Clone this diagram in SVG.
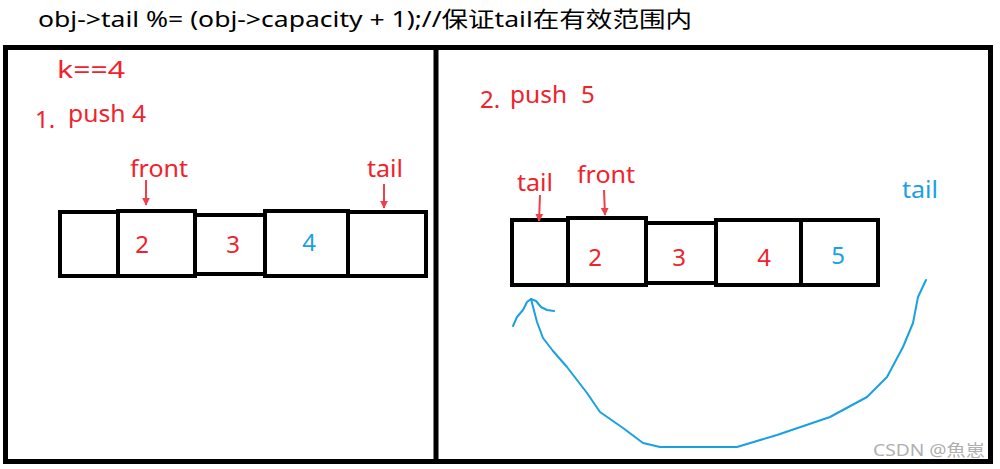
<svg xmlns="http://www.w3.org/2000/svg" width="1000" height="469" viewBox="0 0 1000 469">
<defs>
<style>
text{font-family:"Noto Sans","Noto Sans CJK SC",sans-serif;}
.red{fill:#f0222c;font-size:24px;}
.blue{fill:#1aa0e6;font-size:24px;}
.num{font-size:24px;text-anchor:middle;}
.cell{fill:none;stroke:#000;stroke-width:4;}
.frame{fill:none;stroke:#000;stroke-width:5;}
.arr{stroke:#f0404a;stroke-width:2;fill:none;marker-end:url(#ah);}
.curve{stroke:#1aa0e0;stroke-width:2;fill:none;stroke-linejoin:round;stroke-linecap:round;}
</style>
<marker id="ah" viewBox="0 0 10 10" refX="9" refY="5" markerWidth="4" markerHeight="5" orient="auto" markerUnits="strokeWidth">
<path d="M0,0 L10,5 L0,10 z" fill="#f0404a"/>
</marker>
</defs>
<rect width="1000" height="469" fill="#fff"/>
<g id="title">
<text x="38" y="27" style="font-size:22px;fill:#000" textLength="654" lengthAdjust="spacingAndGlyphs">obj-&gt;tail %= (obj-&gt;capacity + 1);//保证tail在有效范围内</text>
</g>
<g id="frames">
<rect class="frame" x="5.5" y="47.5" width="985" height="414"/>
<line x1="436" y1="47" x2="436" y2="462" stroke="#000" stroke-width="5"/>
</g>
<g id="panel1-labels">
<text class="red" x="57" y="78" textLength="68" lengthAdjust="spacingAndGlyphs">k==4</text>
<text class="red" x="35" y="128">1.</text>
<text class="red" x="68" y="122" textLength="78" lengthAdjust="spacingAndGlyphs">push 4</text>
<text class="red" x="130" y="177" textLength="58" lengthAdjust="spacingAndGlyphs">front</text>
<text class="red" x="367" y="177" textLength="36" lengthAdjust="spacingAndGlyphs">tail</text>
</g>
<g id="array1">
<g id="a1c0"><rect class="cell" x="60" y="212" width="58" height="64"/></g>
<g id="a1c1"><rect class="cell" x="118" y="211" width="77" height="65"/><text class="red num" x="142" y="253">2</text></g>
<g id="a1c2"><rect class="cell" x="195" y="215" width="70" height="59"/><text class="red num" x="233" y="253">3</text></g>
<g id="a1c3"><rect class="cell" x="265" y="211" width="83" height="65"/><text class="blue num" x="309" y="251">4</text></g>
<g id="a1c4"><rect class="cell" x="348" y="212" width="78" height="64"/></g>
</g>
<g id="panel2-labels">
<text class="red" x="480" y="108">2.</text>
<text class="red" x="510" y="103" textLength="57" lengthAdjust="spacingAndGlyphs">push</text>
<text class="red" x="581" y="103">5</text>
<text class="red" x="517" y="191" textLength="36" lengthAdjust="spacingAndGlyphs">tail</text>
<text class="red" x="577" y="183" textLength="58" lengthAdjust="spacingAndGlyphs">front</text>
<text class="blue" x="902" y="198" textLength="36" lengthAdjust="spacingAndGlyphs">tail</text>
</g>
<g id="array2">
<g id="a2c0"><rect class="cell" x="512" y="220" width="56" height="65"/></g>
<g id="a2c1"><rect class="cell" x="568" y="218" width="78" height="67"/><text class="red num" x="595" y="266">2</text></g>
<g id="a2c2"><rect class="cell" x="646" y="223" width="70" height="60"/><text class="red num" x="679" y="266">3</text></g>
<g id="a2c3"><rect class="cell" x="716" y="220" width="85" height="65"/><text class="red num" x="764" y="266">4</text></g>
<g id="a2c4"><rect class="cell" x="801" y="220" width="77" height="65"/><text class="blue num" x="838" y="264">5</text></g>
</g>
<g id="connectors">
<line class="arr" x1="146" y1="180" x2="146" y2="205"/>
<line class="arr" x1="384" y1="184" x2="384" y2="208"/>
<line class="arr" x1="540" y1="195" x2="539" y2="221"/>
<line class="arr" x1="604" y1="190" x2="605" y2="215"/>
<path class="curve" d="M926,280 L918,297 L913,323 L903,347 L887,377 L867,397 L830,417 L777,435 L737,447 L660,447 L643,443 L623,428 L600,412 L587,393 L567,367 L553,351 L543,338 L537,322 L531,299"/>
<path class="curve" d="M513,326 L517,317 L523,310 L527,302 L531,299 L536,301 L541,307 L547,310 L554,311"/>
</g>
<g id="watermark">
<text x="873" y="456" style="font-size:16px;fill:#b0b0b0" textLength="112" lengthAdjust="spacingAndGlyphs">CSDN @魚崽</text>
</g>
</svg>
